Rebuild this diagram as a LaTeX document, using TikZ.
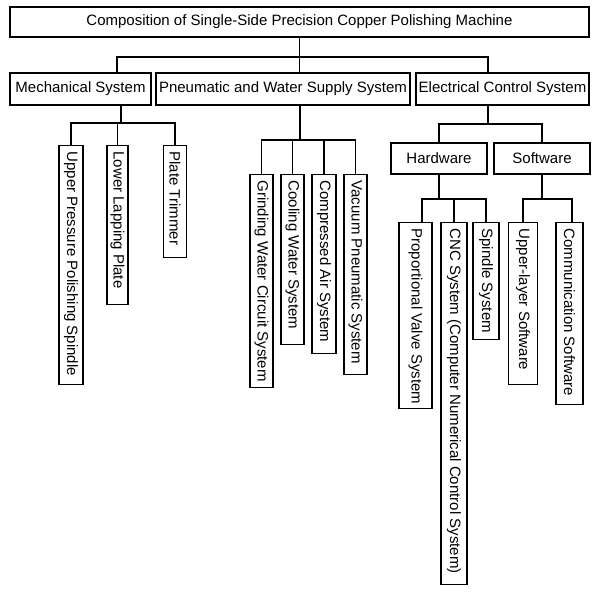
\documentclass[tikz,border=0pt]{standalone}
\usepackage{fontspec}
\setmainfont{Liberation Sans}
\newcommand\vtxt[2]{\makebox[#1pt][l]{\hspace{6pt}#2}}
\begin{document}
\begin{tikzpicture}[x=1pt,y=-1pt,
  box/.style={draw, line width=1.3pt, inner sep=0pt, font=\fontsize{15}{18}\selectfont},
  vbox/.style={box, rotate=-90, anchor=west},
  wire/.style={line width=1.3pt}]
\useasboundingbox[fill=white] (0,0) rectangle (600,596);
% top levels
\node[box, minimum width=579pt, minimum height=30pt] (title) at (299.5,22) {Composition of Single-Side Precision Copper Polishing Machine};
\node[box, minimum width=141pt, minimum height=32pt] (mech) at (80.5,89) {Mechanical System};
\node[box, minimum width=254pt, minimum height=32pt] (pneu) at (283,89) {Pneumatic and Water Supply System};
\node[box, minimum width=173pt, minimum height=32pt] (elec) at (502.5,89) {Electrical Control System};
\node[box, minimum width=96pt, minimum height=31pt] (hard) at (439,158.5) {Hardware};
\node[box, minimum width=96pt, minimum height=31pt] (soft) at (542,158.5) {Software};
% vertical boxes
\node[vbox, minimum height=24pt] (upp) at (71,145) {\vtxt{239}{Upper Pressure Polishing Spindle}};
\node[vbox, minimum height=21pt] (low) at (117.5,145) {\vtxt{159}{Lower Lapping Plate}};
\node[vbox, minimum height=23pt] (plt) at (175,145) {\vtxt{112}{Plate Trimmer}};
\node[vbox, minimum height=23pt] (grd) at (261.5,174) {\vtxt{213}{Grinding Water Circuit System}};
\node[vbox, minimum height=23pt] (col) at (292.5,174) {\vtxt{170}{Cooling Water System}};
\node[vbox, minimum height=24pt] (cmp) at (324,174) {\vtxt{179}{Compressed Air System}};
\node[vbox, minimum height=23pt] (vac) at (355.5,174) {\vtxt{200}{Vacuum Pneumatic System}};
\node[vbox, minimum height=33pt] (prop) at (415.5,222) {\vtxt{186}{Proportional Valve System}};
\node[vbox, minimum height=26pt] (cnc) at (454,222) {\vtxt{362}{CNC System (Computer Numerical Control System)}};
\node[vbox, minimum height=26pt] (spn) at (486,222) {\vtxt{117}{Spindle System}};
\node[vbox, minimum height=29pt] (upl) at (523,222) {\vtxt{162}{Upper-layer Software}};
\node[vbox, minimum height=27pt] (com) at (569.5,222) {\vtxt{182}{Communication Software}};
% bus coordinates
\coordinate (A1) at (117,57);
\coordinate (A3) at (488,57);
\coordinate (B0) at (121,123);
\coordinate (C0) at (300,140);
\coordinate (D0) at (488,124);
\coordinate (E1) at (422,199);
\coordinate (F2) at (572,199);
% level 1
\draw[wire] (title.south) -- (pneu.north -| title.south);
\draw[wire] (mech.north -| A1) -- (A1) -- (A3) -- (elec.north -| A3);
% mechanical
\draw[wire] (mech.south -| B0) -- (B0);
\draw[wire] (upp.west) -- (upp.west |- B0) -- (plt.west |- B0) -- (plt.west);
\draw[wire] (low.west) -- (low.west |- B0);
% pneumatic
\draw[wire] (pneu.south -| C0) -- (C0);
\draw[wire] (grd.west) -- (grd.west |- C0) -- (vac.west |- C0) -- (vac.west);
\draw[wire] (col.west) -- (col.west |- C0);
\draw[wire] (cmp.west) -- (cmp.west |- C0);
% electrical
\draw[wire] (elec.south -| D0) -- (D0);
\draw[wire] (hard.north) -- (hard.north |- D0) -- (soft.north |- D0) -- (soft.north);
% hardware
\draw[wire] (hard.south) -- (hard.south |- E1);
\draw[wire] (prop.west -| E1) -- (E1) -- (spn.west |- E1) -- (spn.west);
\draw[wire] (cnc.west) -- (cnc.west |- E1);
% software
\draw[wire] (soft.south) -- (soft.south |- F2);
\draw[wire] (upl.west) -- (upl.west |- F2) -- (F2) -- (com.west -| F2);
\end{tikzpicture}
\end{document}
